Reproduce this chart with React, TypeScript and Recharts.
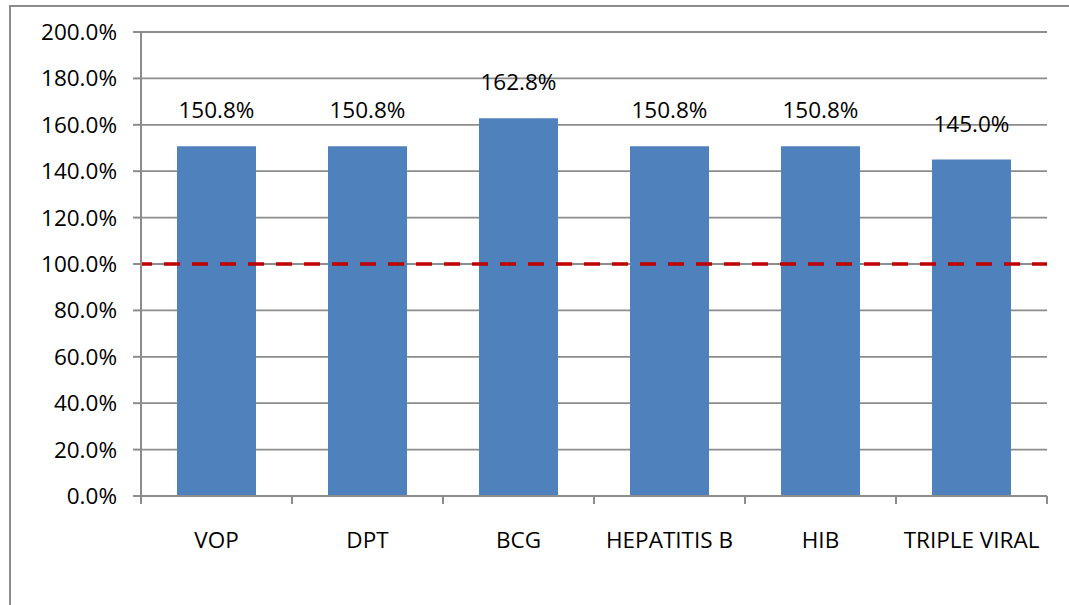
import React from "react";
import {
  BarChart,
  Bar,
  XAxis,
  YAxis,
  CartesianGrid,
  ReferenceLine,
  LabelList,
} from "recharts";

const categories = ["VOP", "DPT", "BCG", "HEPATITIS B", "HIB", "TRIPLE VIRAL"];
const coverage = [150.8, 150.8, 162.8, 150.8, 150.8, 145.0];
const yTicks = [0, 20, 40, 60, 80, 100, 120, 140, 160, 180, 200];
const targetLine = 100;

const data = categories.map((name, i) => ({ name, value: coverage[i] }));

const W = 1069;
const H = 605;
const MARGIN = { top: 32, right: 22, bottom: 0, left: 0 };
const Y_AXIS_W = 141;
const X_AXIS_H = 109;
const FONT = "'Open Sans', 'Noto Sans', sans-serif";
const FS = 22.5;
const GRID = "#8c8c8c";

const plotW = W - MARGIN.left - MARGIN.right - Y_AXIS_W;
const bandW = plotW / categories.length;

const XTick = (props: any) => {
  const { x, y, payload, index } = props;
  const left = x - bandW / 2;
  const right = x + bandW / 2;
  return (
    <g>
      <line x1={left} y1={y} x2={left} y2={y + 8} stroke={GRID} strokeWidth={2} />
      {index === categories.length - 1 && (
        <line x1={right} y1={y} x2={right} y2={y + 8} stroke={GRID} strokeWidth={2} />
      )}
      <text
        x={x}
        y={y + 52}
        textAnchor="middle"
        fill="#000"
        fontSize={FS}
        fontFamily={FONT}
      >
        {payload.value}
      </text>
    </g>
  );
};

export default function App() {
  return (
    <div
      style={{
        position: "absolute",
        left: 0,
        top: 0,
        width: W,
        height: H,
        background: "#fff",
        overflow: "hidden",
      }}
    >
      <div
        style={{
          position: "absolute",
          left: 9,
          top: 5,
          width: 1200,
          height: 800,
          border: `2px solid ${GRID}`,
        }}
      />
      <div style={{ position: "absolute", left: 0, top: 0 }}>
        <BarChart
          width={W}
          height={H}
          data={data}
          margin={MARGIN}
          barSize={79}
          style={{ fontFamily: FONT }}
        >
          <CartesianGrid
            vertical={false}
            stroke={GRID}
            strokeWidth={1.8}
          />
          <XAxis
            dataKey="name"
            height={X_AXIS_H}
            tickSize={0}
            tickMargin={0}
            tickLine={false}
            axisLine={{ stroke: GRID, strokeWidth: 2 }}
            tick={<XTick />}
            interval={0}
          />
          <YAxis
            width={Y_AXIS_W}
            domain={[0, 200]}
            ticks={yTicks}
            interval={0}
            tickSize={8}
            tickMargin={16}
            tickFormatter={(v: number) => `${v.toFixed(1)}%`}
            tick={{ fill: "#000", fontSize: FS, fontFamily: FONT }}
            tickLine={{ stroke: GRID, strokeWidth: 2 }}
            axisLine={{ stroke: GRID, strokeWidth: 2 }}
          />
          <Bar dataKey="value" fill="#4f81bd" isAnimationActive={false}>
            <LabelList
              dataKey="value"
              position="top"
              offset={28}
              formatter={(v: any) => `${Number(v).toFixed(1)}%`}
              fill="#000"
              fontSize={FS}
              fontFamily={FONT}
            />
          </Bar>
          <ReferenceLine
            y={targetLine}
            stroke="#c00000"
            strokeWidth={3.5}
            strokeDasharray="16 12"
            strokeDashoffset={5}
          />
        </BarChart>
      </div>
    </div>
  );
}
